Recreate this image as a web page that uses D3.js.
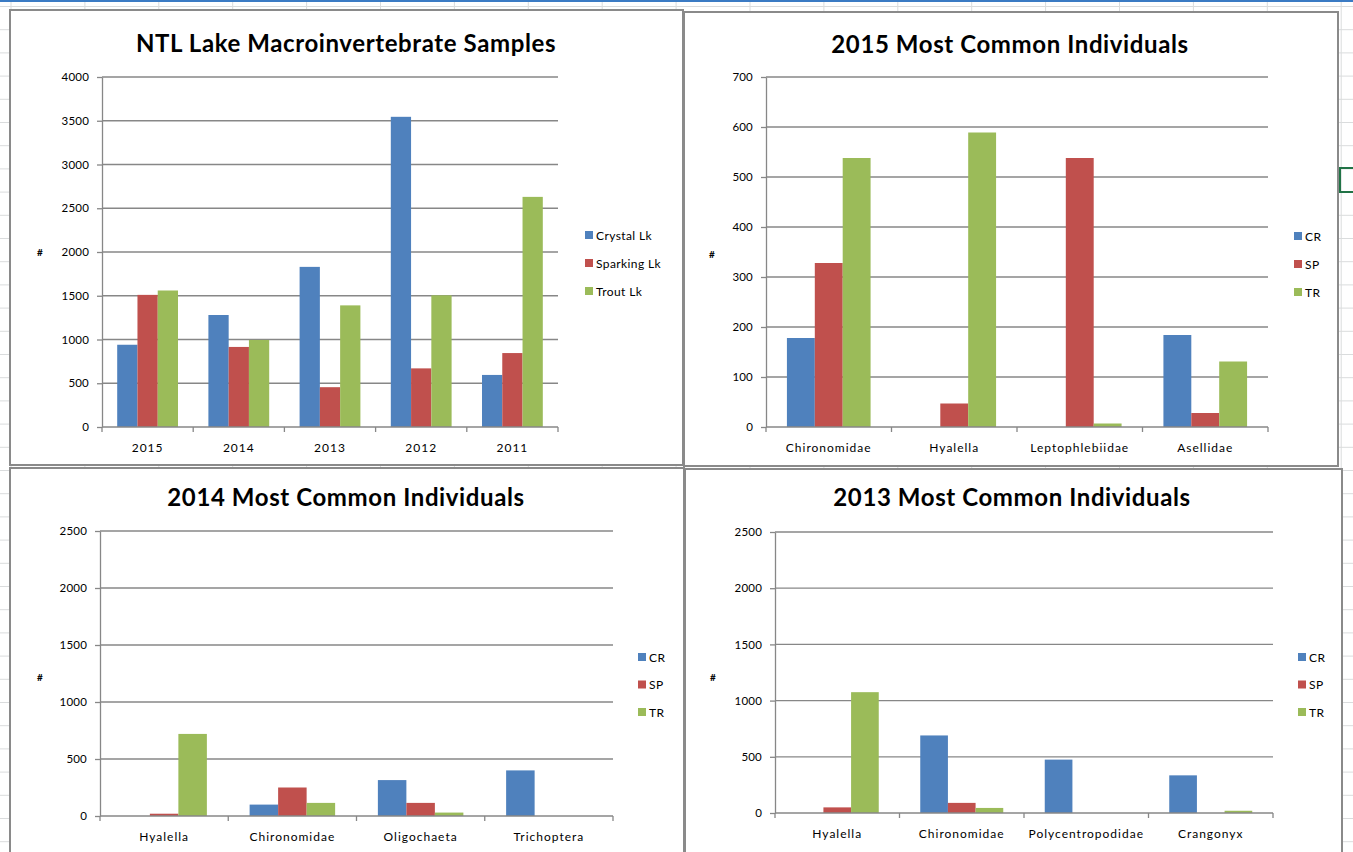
<!DOCTYPE html>
<html>
<head>
<meta charset="utf-8">
<script src="https://cdn.jsdelivr.net/npm/d3@7/dist/d3.min.js"></script>
<style>
  html, body { margin: 0; padding: 0; background: #ffffff; }
  svg { display: block; }
  text { font-family: Lato, "Open Sans", sans-serif; fill: #000; }
</style>
</head>
<body>
<svg id="page" width="1353" height="852"></svg>
<script>
// ---------------- DATA ----------------
const lakeYears = ["2015", "2014", "2013", "2012", "2011"];
const lakeSeries = ["Crystal Lk", "Sparking Lk", "Trout Lk"];
const crystalLk = [940, 1280, 1830, 3545, 595];
const sparkingLk = [1510, 915, 455, 670, 845];
const troutLk = [1560, 995, 1390, 1505, 2630];
const lakeTicks = [0, 500, 1000, 1500, 2000, 2500, 3000, 3500, 4000];

const siteSeries = ["CR", "SP", "TR"];

const taxa2015 = ["Chironomidae", "Hyalella", "Leptophlebiidae", "Asellidae"];
const cr2015 = [178, 0, 0, 184];
const sp2015 = [328, 47, 538, 28];
const tr2015 = [538, 589, 7, 131];
const ticks2015 = [0, 100, 200, 300, 400, 500, 600, 700];

const taxa2014 = ["Hyalella", "Chironomidae", "Oligochaeta", "Trichoptera"];
const cr2014 = [0, 100, 315, 400];
const sp2014 = [20, 250, 115, 0];
const tr2014 = [720, 115, 30, 0];
const ticks2014 = [0, 500, 1000, 1500, 2000, 2500];

const taxa2013 = ["Hyalella", "Chironomidae", "Polycentropodidae", "Crangonyx"];
const cr2013 = [0, 690, 475, 335];
const sp2013 = [50, 90, 0, 0];
const tr2013 = [1075, 45, 0, 20];
const ticks2013 = [0, 500, 1000, 1500, 2000, 2500];

// ---------------- STYLE ----------------
const seriesColors = ["#4F81BD", "#C0504D", "#9BBB59"];
const gridColor = "#878787";
const sheetLine = "#dadcdd";

const svg = d3.select("#page");

// spreadsheet background
const bg = svg.append("g");
for (let k = 0; k < 20; k++) {
  const x = 11 + 73.9 * k;
  bg.append("line").attr("x1", x).attr("x2", x).attr("y1", 0).attr("y2", 852)
    .attr("stroke", sheetLine).attr("stroke-width", 1);
}
for (let k = 0; k < 38; k++) {
  const y = 6.5 + 23.2 * k;
  bg.append("line").attr("x1", 0).attr("x2", 1353).attr("y1", y).attr("y2", y)
    .attr("stroke", sheetLine).attr("stroke-width", 1);
}
bg.append("rect").attr("x", 0).attr("y", 0).attr("width", 1353).attr("height", 2)
  .attr("fill", "#3b7bc4");
bg.append("rect").attr("x", 1340).attr("y", 168).attr("width", 20).attr("height", 24)
  .attr("fill", "none").attr("stroke", "#217346").attr("stroke-width", 2);

function drawChart(cfg) {
  const g = svg.append("g");
  // frame
  g.append("rect")
    .attr("x", cfg.box[0]).attr("y", cfg.box[1])
    .attr("width", cfg.box[2] - cfg.box[0]).attr("height", cfg.box[3] - cfg.box[1])
    .attr("fill", "#fff").attr("stroke", "#8a8a8a").attr("stroke-width", 2);

  // title
  g.append("text")
    .attr("x", cfg.titleX).attr("y", cfg.titleY)
    .attr("text-anchor", "middle").attr("dominant-baseline", "central")
    .attr("font-size", 24).attr("font-weight", "bold").attr("letter-spacing", 0.6)
    .text(cfg.title);

  const x0 = d3.scaleBand().domain(cfg.categories).range([cfg.plot[0], cfg.plot[2]])
    .paddingInner(0).paddingOuter(0);
  const x1 = d3.scaleBand().domain(cfg.series).range([0, x0.bandwidth()])
    .paddingInner(0).paddingOuter(0.75);
  const y = d3.scaleLinear().domain([0, cfg.ticks[cfg.ticks.length - 1]])
    .range([cfg.plot[3], cfg.plot[1]]);

  // gridlines
  g.append("g").selectAll("line").data(cfg.ticks.filter(t => t !== 0)).join("line")
    .attr("x1", cfg.plot[0]).attr("x2", cfg.plot[2])
    .attr("y1", d => y(d)).attr("y2", d => y(d))
    .attr("stroke", gridColor).attr("stroke-width", 1.3);

  // bars
  const rows = cfg.categories.map((c, i) => ({
    cat: c,
    vals: cfg.series.map((s, j) => ({ s, j, v: cfg.values[j][i] }))
  }));
  g.append("g").selectAll("g").data(rows).join("g")
    .attr("transform", d => `translate(${x0(d.cat)},0)`)
    .selectAll("rect").data(d => d.vals).join("rect")
    .attr("x", d => x1(d.s)).attr("width", x1.bandwidth())
    .attr("y", d => y(d.v)).attr("height", d => y(0) - y(d.v))
    .attr("fill", d => seriesColors[d.j]);

  // y axis
  const yAxis = d3.axisLeft(y).tickValues(cfg.ticks).tickSize(5).tickSizeOuter(0).tickPadding(8)
    .tickFormat(d3.format("d"));
  const ya = g.append("g").attr("transform", `translate(${cfg.plot[0]},0)`).call(yAxis);
  ya.select(".domain").attr("stroke", gridColor).attr("stroke-width", 1.3);
  ya.selectAll(".tick line").attr("stroke", gridColor).attr("stroke-width", 1.3);
  ya.selectAll(".tick text").attr("font-size", 11.5).attr("font-family", "Lato, sans-serif")
    .attr("letter-spacing", 0.2).attr("fill", "#000");

  // x axis
  const xa = g.append("g").attr("transform", `translate(0,${cfg.plot[3]})`);
  xa.append("line").attr("x1", cfg.plot[0]).attr("x2", cfg.plot[2]).attr("y1", 0).attr("y2", 0)
    .attr("stroke", gridColor).attr("stroke-width", 1.3);
  const bounds = cfg.categories.map(c => x0(c)).concat([x0.range()[1]]);
  xa.selectAll(".xt").data(bounds).join("line").attr("class", "xt")
    .attr("x1", d => d).attr("x2", d => d).attr("y1", 0).attr("y2", 5)
    .attr("stroke", gridColor).attr("stroke-width", 1.3);
  xa.selectAll("text").data(cfg.categories).join("text")
    .attr("x", d => x0(d) + x0.bandwidth() / 2).attr("y", cfg.catLabelDy)
    .attr("text-anchor", "middle").attr("dominant-baseline", "central")
    .attr("font-size", 12).attr("letter-spacing", 1).text(d => d);

  // axis title
  g.append("text").attr("x", cfg.hashX).attr("y", cfg.hashY)
    .attr("text-anchor", "middle").attr("dominant-baseline", "central")
    .attr("font-size", 10).attr("font-weight", "bold").text("#");

  // legend
  const lg = g.append("g").selectAll("g").data(cfg.series).join("g")
    .attr("transform", (d, i) => `translate(${cfg.legendX},${cfg.legendY + i * cfg.legendStep})`);
  lg.append("rect").attr("x", 0).attr("y", -4).attr("width", 8).attr("height", 8)
    .attr("fill", (d, i) => seriesColors[i]);
  lg.append("text").attr("x", 11).attr("y", 0).attr("dominant-baseline", "central")
    .attr("font-size", 12).attr("letter-spacing", 0.4).text(d => d);
}

drawChart({
  box: [10, 10, 683, 465], title: "NTL Lake Macroinvertebrate Samples", titleX: 346, titleY: 42,
  plot: [102, 77, 558, 427], categories: lakeYears, series: lakeSeries,
  values: [crystalLk, sparkingLk, troutLk], ticks: lakeTicks, catLabelDy: 20,
  hashX: 40, hashY: 252, legendX: 585, legendY: 235, legendStep: 28
});
drawChart({
  box: [684, 12, 1338, 466], title: "2015 Most Common Individuals", titleX: 1010, titleY: 43,
  plot: [766, 77, 1268, 427], categories: taxa2015, series: siteSeries,
  values: [cr2015, sp2015, tr2015], ticks: ticks2015, catLabelDy: 20,
  hashX: 712, hashY: 254, legendX: 1294, legendY: 236, legendStep: 28
});
drawChart({
  box: [10, 468, 684, 870], title: "2014 Most Common Individuals", titleX: 346, titleY: 496,
  plot: [100, 531, 613, 816], categories: taxa2014, series: siteSeries,
  values: [cr2014, sp2014, tr2014], ticks: ticks2014, catLabelDy: 20,
  hashX: 40, hashY: 677, legendX: 638, legendY: 657, legendStep: 27.5
});
drawChart({
  box: [685, 469, 1342, 870], title: "2013 Most Common Individuals", titleX: 1012, titleY: 496,
  plot: [775, 532, 1273, 813], categories: taxa2013, series: siteSeries,
  values: [cr2013, sp2013, tr2013], ticks: ticks2013, catLabelDy: 20,
  hashX: 713, hashY: 677, legendX: 1298, legendY: 657, legendStep: 27.5
});
</script>
</body>
</html>
